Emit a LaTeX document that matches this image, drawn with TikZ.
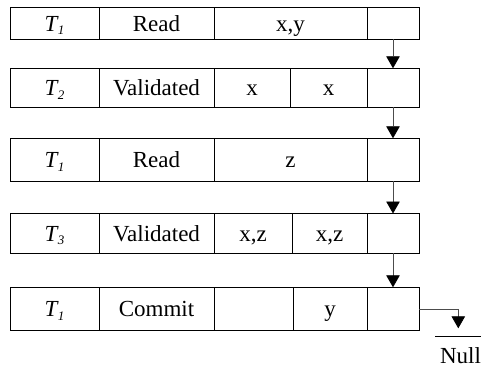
\documentclass[tikz,border=0pt]{standalone}
\usepackage{fontspec}
\setmainfont{Liberation Serif}
\usetikzlibrary{arrows.meta}

% transaction label: italic T with an italic subscript
\newcommand\txn[1]{\textit{T\kern0.3pt\raisebox{-3.6pt}{\fontsize{13}{13}\selectfont #1}}}

% one cell of a record: name, left, top, right, bottom, text
\newcommand\recordcell[6]{%
  \node[cell, minimum width={(#4-#2)*1pt}, minimum height={(#5-#3)*1pt}]
    (#1) at ({(#2+#4)/2},{(#3+#5)/2}) {#6};}

\begin{document}
\begin{tikzpicture}[x=1pt, y=-1pt,
  cell/.style={draw=black, line width=0.8pt, rectangle, inner sep=0pt, outer sep=0pt,
    font=\fontsize{23}{26}\selectfont, text height=15.5pt, text depth=0pt},
  link/.style={draw=black!70, line width=0.8pt,
    -{Triangle[width=13.5pt,length=12pt,color=black]}},
  bar/.style={draw=black, line width=0.8pt}]
\useasboundingbox (0,0) rectangle (481,374);

% record 1
\recordcell{a1}{10}{7.3}{99}{39.3}{\txn{1}}
\recordcell{a2}{99}{7.3}{214}{39.3}{Read}
\recordcell{a3}{214}{7.3}{367}{39.3}{x,y}
\recordcell{a4}{367}{7.3}{419}{39.3}{}

% record 2
\recordcell{b1}{10}{68.3}{99}{107.3}{\txn{2}}
\recordcell{b2}{99}{68.3}{214}{107.3}{Validated}
\recordcell{b3}{214}{68.3}{290}{107.3}{x}
\recordcell{b4}{290}{68.3}{367}{107.3}{x}
\recordcell{b5}{367}{68.3}{419}{107.3}{}

% record 3
\recordcell{c1}{10}{138.3}{99}{181}{\txn{1}}
\recordcell{c2}{99}{138.3}{214}{181}{Read}
\recordcell{c3}{214}{138.3}{367}{181}{z}
\recordcell{c4}{367}{138.3}{419}{181}{}

% record 4
\recordcell{d1}{10}{213.5}{99}{253.3}{\txn{3}}
\recordcell{d2}{99}{213.5}{214}{253.3}{Validated}
\recordcell{d3}{214}{213.5}{292}{253.3}{x,z}
\recordcell{d4}{292}{213.5}{367}{253.3}{x,z}
\recordcell{d5}{367}{213.5}{419}{253.3}{}

% record 5
\recordcell{e1}{10}{287.3}{99}{330.7}{\txn{1}}
\recordcell{e2}{99}{287.3}{214}{330.7}{Commit}
\recordcell{e3}{214}{287.3}{293}{330.7}{}
\recordcell{e4}{293}{287.3}{367}{330.7}{y}
\recordcell{e5}{367}{287.3}{419}{330.7}{}

% pointers between records
\draw[link] (a4.south) -- (b5.north);
\draw[link] (b5.south) -- (c4.north);
\draw[link] (c4.south) -- (d5.north);
\draw[link] (d5.south) -- (e5.north);

% last pointer ends in Null
\coordinate (nullend) at (458.3,328.3);
\coordinate (barL) at (435,336.7);
\coordinate (barR) at (481,336.7);
\draw[link] (e5.east) -| (nullend);
\draw[bar] (barL) -- (barR);
\node[font=\fontsize{23}{26}\selectfont, anchor=base, inner sep=0pt] (null) at (460.5,363) {Null};
\end{tikzpicture}
\end{document}
